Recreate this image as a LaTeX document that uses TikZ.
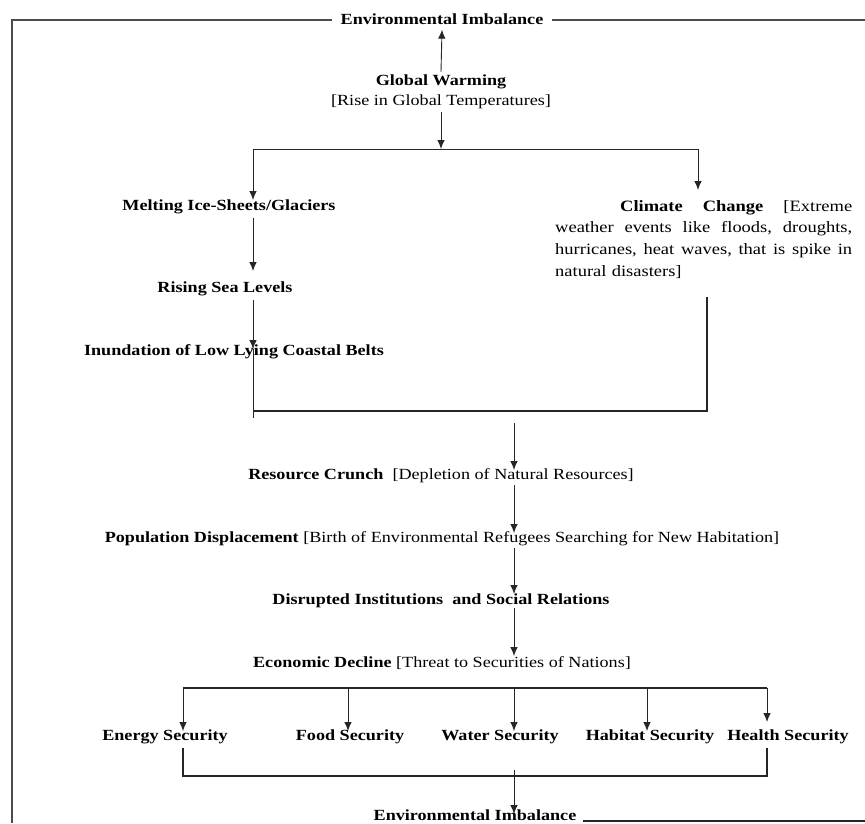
\documentclass[tikz,border=0pt]{standalone}
\usepackage{fontspec}
\setmainfont[FakeStretch=1.17]{Liberation Serif}
\usetikzlibrary{arrows.meta,calc}
\newcommand{\jline}[1]{\leavevmode\hbox to 297pt{#1}}
\begin{document}
\begin{tikzpicture}[x=1pt,y=-1pt,
  every node/.style={font=\fontsize{15.5}{20}\selectfont, inner sep=0pt, text=black},
  con/.style={draw=black!85, line width=0.9pt},
  arr/.style={con, -{Latex[length=9pt,width=7.5pt]}},
  frame/.style={draw=black!70, line width=1.6pt}]
\useasboundingbox (0,0) rectangle (865,823);
% nodes
\node (envtop) at (442,19) [inner xsep=8pt, inner ysep=5pt] {\textbf{Environmental Imbalance}};
\node (gw) at (441,92) [align=center, inner sep=3pt] {\textbf{Global Warming}\\{}[Rise in Global Temperatures]};
\node (melt) at (229,207) [inner sep=4pt] {\textbf{Melting Ice-Sheets/Glaciers}};
\node (rise) at (225,289) [inner sep=4pt] {\textbf{Rising Sea Levels}};
\node (inund) at (234,352) {\textbf{Inundation of Low Lying Coastal Belts}};
\node (clim) at (555,200) [anchor=north west, text width=297pt, align=left, font=\fontsize{15.8}{21.8}\selectfont] {%
\jline{\hspace*{65pt}\textbf{Climate}\hfill\textbf{Change}\hfill[Extreme}\\
\jline{weather\hfill events\hfill like\hfill floods,\hfill droughts,}\\
\jline{hurricanes,\hfill heat\hfill waves,\hfill that\hfill is\hfill spike\hfill in}\\
natural disasters]};
\node (rc) at (441,476) {\textbf{Resource Crunch} \ [Depletion of Natural Resources]};
\node (pd) at (442,539) {\textbf{Population Displacement} [Birth of Environmental Refugees Searching for New Habitation]};
\node (di) at (441,601) {\textbf{Disrupted Institutions \ and Social Relations}};
\node (ed) at (442,663) {\textbf{Economic Decline} [Threat to Securities of Nations]};
\node (es) at (165,737) {\textbf{Energy Security}};
\node (fs) at (350,737) {\textbf{Food Security}};
\node (ws) at (500,737) {\textbf{Water Security}};
\node (hs) at (650,737) {\textbf{Habitat Security}};
\node (hes) at (788,737) {\textbf{Health Security}};
\node (envbot) at (475,815) [inner xsep=6pt] {\textbf{Environmental Imbalance}};
% coordinates
\coordinate (split) at (441,149);
\coordinate (sL) at (253,149);
\coordinate (sR) at (698,149);
\coordinate (meltin) at (253,200);
\coordinate (climin) at (698,190);
\coordinate (meltout) at (253,218);
\coordinate (risein) at (253,271);
\coordinate (riseout) at (253,300);
\coordinate (inundin) at (253,349);
\coordinate (jL) at (253,418);
\coordinate (jLc) at (253,411);
\coordinate (jR) at (707,411);
\coordinate (climout) at (707,297);
\coordinate (rcstart) at (514,423);
\coordinate (rcin) at (514,470);
\coordinate (rcout) at (514,485);
\coordinate (pdin) at (514,533);
\coordinate (pdout) at (514,548);
\coordinate (diin) at (514,594);
\coordinate (diout) at (514,608);
\coordinate (edin) at (514,656);
\coordinate (b1) at (183,688);
\coordinate (b5) at (767,688);
\coordinate (c1) at (183,748);
\coordinate (c5) at (767,748);
\coordinate (d1) at (183,776);
\coordinate (d5) at (767,776);
\coordinate (ebstart) at (514,770);
\coordinate (ebin) at (514,814);
\coordinate (frTL) at (12,20);
\coordinate (frBL) at (12,823);
\coordinate (frTR) at (865,20);
\coordinate (frBR) at (865,821);
% frame
\draw[frame] (frBL) -- (frTL) -- (envtop.west |- frTL);
\draw[frame] (envtop.east |- frTR) -- (frTR);
\draw[con, line width=1.2pt] (envbot.east |- frBR) -- (frBR);
% connectors
\draw[arr] (gw.north) -- (envtop.south);
\draw[arr] (gw.south) -- (split);
\draw[con] (sL) -- (sR);
\draw[arr] (sL) -- (meltin);
\draw[arr] (sR) -- (climin);
\draw[arr] (meltout) -- (risein);
\draw[arr] (riseout) -- (inundin);
\draw[con] (inundin) -- (jL);
\draw[con, line width=1.3pt] (jLc) -- (jR) -- (climout);
\draw[arr] (rcstart) -- (rcin);
\draw[arr] (rcout) -- (pdin);
\draw[arr] (pdout) -- (diin);
\draw[arr] (diout) -- (edin);
\draw[con, line width=1.2pt] (b1) -- (b5);
\draw[arr] (b1) -- (183,731);
\draw[arr] (348,688) -- (348,731);
\draw[arr] (514,688) -- (514,731);
\draw[arr] (647,688) -- (647,731);
\draw[arr] (b5) -- (767,722);
\draw[con, line width=1.2pt] (c1) -- (d1) -- (d5) -- (c5);
\draw[arr] (ebstart) -- (ebin);
\end{tikzpicture}
\end{document}
